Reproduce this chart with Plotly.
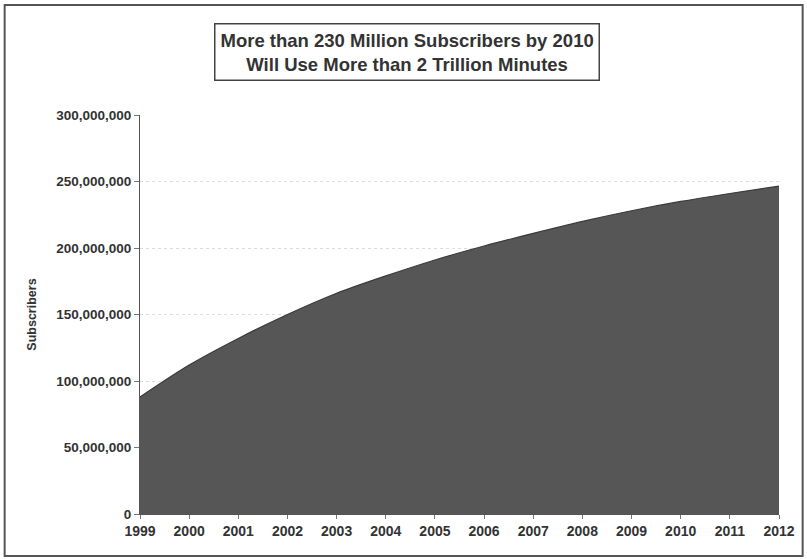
import plotly.graph_objects as go

years = [1999, 2000, 2001, 2002, 2003, 2004, 2005, 2006, 2007, 2008, 2009, 2010, 2011, 2012]
subscribers = [88e6, 112e6, 132e6, 150e6, 166e6, 179e6, 191e6, 201.5e6, 211e6, 220e6, 228e6, 235e6, 241e6, 246.5e6]
y_ticks = [0, 50e6, 100e6, 150e6, 200e6, 250e6, 300e6]
title_lines = ["More than 230 Million Subscribers by 2010", "Will Use More than 2 Trillion Minutes"]
y_title = "Subscribers"

FONT = "Liberation Sans, Arial, sans-serif"

fig = go.Figure()
fig.add_trace(go.Scatter(
    x=years, y=subscribers, mode="lines", fill="tozeroy",
    line=dict(color="#3a3a3a", width=1.2, shape="spline", smoothing=0.8),
    fillcolor="#565656", hoverinfo="x+y", showlegend=False,
))

fig.update_layout(
    width=807, height=559,
    margin=dict(l=140, r=25, t=115, b=45),
    paper_bgcolor="white", plot_bgcolor="white",
    font=dict(family=FONT, color="#333333"),
    xaxis=dict(
        range=[1999, 2012], tickvals=years, ticktext=[str(y) for y in years],
        showgrid=False, zeroline=False, showline=True, linecolor="#555555", linewidth=1,
        ticks="outside", ticklen=4, tickcolor="#777777",
        tickfont=dict(family=FONT, size=14, color="#333333", weight="bold"),
    ),
    yaxis=dict(
        range=[0, 300e6], tickvals=y_ticks, tickformat=",d",
        showgrid=True, gridcolor="#dddddd", griddash="dot", gridwidth=1,
        zeroline=False, showline=True, linecolor="#555555", linewidth=1,
        ticks="outside", ticklen=5, tickcolor="#777777",
        tickfont=dict(family=FONT, size=13.5, color="#333333", weight="bold"),
        title=dict(text=y_title, font=dict(family=FONT, size=12.5, color="#333333", weight="bold"), standoff=16),
    ),
    annotations=[dict(
        text="<b>" + "<br>".join(title_lines) + "</b>",
        xref="paper", yref="paper", x=0.418, y=1.158, xanchor="center", yanchor="middle",
        showarrow=False, align="center",
        font=dict(family=FONT, size=18.5, color="#333333"),
        bordercolor="#444444", borderwidth=1.5, borderpad=5, bgcolor="white",
    )],
    shapes=[dict(
        type="rect", xref="paper", yref="paper",
        x0=-0.2118, x1=1.037, y0=-0.105, y1=1.2757,
        line=dict(color="#555555", width=2),
    )],
)

fig.write_html("out.html", config={"displayModeBar": False},
               post_script="document.body.style.margin='0';document.body.style.padding='0';")
